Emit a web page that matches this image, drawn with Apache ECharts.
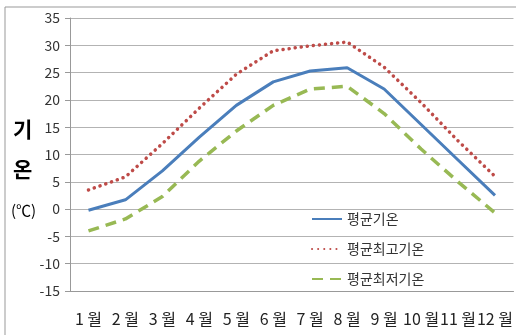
<!DOCTYPE html>
<html>
<head>
<meta charset="utf-8">
<script src="https://cdn.jsdelivr.net/npm/echarts@6/dist/echarts.min.js"></script>
<style>
  html, body { margin: 0; padding: 0; background: #fff; }
  #chart { width: 516px; height: 335px; }
</style>
</head>
<body>
<div id="chart"></div>
<script>
var months = ['1 월','2 월','3 월','4 월','5 월','6 월','7 월','8 월','9 월','10 월','11 월','12 월'];
var avgTemp = [-0.2, 1.7, 7.0, 13.2, 19.0, 23.3, 25.3, 25.9, 22.0, 15.5, 9.0, 2.5];
var maxTemp = [3.5, 5.9, 12.0, 18.5, 24.7, 29.0, 29.9, 30.6, 26.0, 19.5, 12.5, 6.0];
var minTemp = [-4.0, -1.8, 2.3, 8.8, 14.3, 19.0, 22.0, 22.5, 17.5, 11.0, 5.0, -0.7];

var font = '"Noto Sans CJK KR", "Noto Sans", sans-serif';

var option = {
    animation: false,
    textStyle: { fontFamily: font },
    grid: { left: 70, right: 2, top: 18, bottom: 44 },
    legend: {
        orient: 'vertical',
        left: 306,
        top: 207,
        itemWidth: 30,
        itemHeight: 14,
        itemGap: 16,
        itemStyle: { opacity: 0 },
        textStyle: { fontSize: 14, color: '#333', fontFamily: font },
        data: ['평균기온', '평균최고기온', '평균최저기온']
    },
    graphic: [
        { type: 'rect', shape: { x: 5, y: 7, width: 520, height: 340 },
          style: { fill: 'none', stroke: '#999', lineWidth: 1 } },
        { type: 'text', left: 13, top: 119,
          style: { text: '기', font: 'bold 21px ' + font, fill: '#000' } },
        { type: 'text', left: 13, top: 159,
          style: { text: '온', font: 'bold 21px ' + font, fill: '#000' } },
        { type: 'text', left: 11, top: 203,
          style: { text: '(℃)', font: '15px ' + font, fill: '#000' } }
    ],
    xAxis: {
        type: 'category',
        data: months,
        boundaryGap: true,
        axisLine: { onZero: false, lineStyle: { color: '#999' } },
        axisTick: { length: 5, lineStyle: { color: '#999' } },
        axisLabel: { color: '#222', fontSize: 16, margin: 20, interval: 0 }
    },
    yAxis: {
        type: 'value',
        min: -15,
        max: 35,
        interval: 5,
        axisLine: { show: true, lineStyle: { color: '#999' } },
        axisTick: { show: true, length: 5, lineStyle: { color: '#999' } },
        axisLabel: { color: '#333', fontSize: 14, margin: 10 },
        splitLine: { lineStyle: { color: '#b3b3b3', width: 1 } }
    },
    series: [
        {
            name: '평균기온', type: 'line', data: avgTemp,
            symbol: 'none',
            lineStyle: { color: '#4a7ebb', width: 3 },
            itemStyle: { color: '#4a7ebb' }
        },
        {
            name: '평균최고기온', type: 'line', data: maxTemp,
            symbol: 'none',
            lineStyle: { color: '#be4b48', width: 3.5, type: [0.1, 6], cap: 'round' },
            itemStyle: { color: '#be4b48' }
        },
        {
            name: '평균최저기온', type: 'line', data: minTemp,
            symbol: 'none',
            lineStyle: { color: '#98b954', width: 3.5, type: [11, 7] },
            itemStyle: { color: '#98b954' }
        }
    ]
};

var myChart = echarts.init(document.getElementById('chart'));
myChart.setOption(option);
window.addEventListener('resize', function () { myChart.resize(); });
</script>
</body>
</html>
